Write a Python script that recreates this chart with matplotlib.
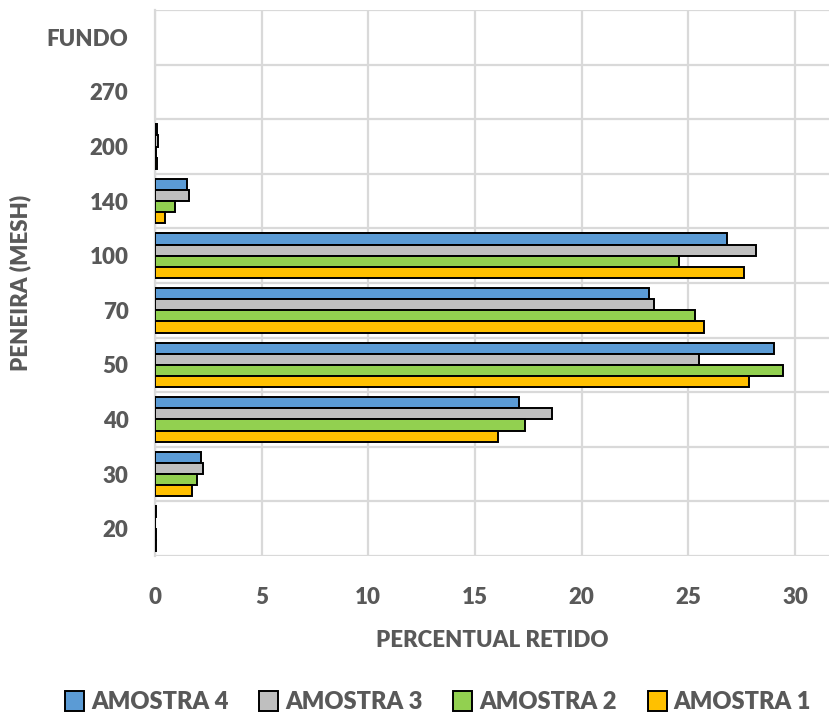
import matplotlib.pyplot as plt
import numpy as np

# Sieve openings (mesh) from bottom to top
peneiras = ['20', '30', '40', '50', '70', '100', '140', '200', '270', 'FUNDO']

# Percent retained on each sieve, per sample
amostra_4 = [0.03, 2.18, 17.05, 29.0, 23.15, 26.8, 1.48, 0.08, 0.0, 0.0]
amostra_3 = [0.02, 2.27, 18.6, 25.5, 23.4, 28.15, 1.6, 0.12, 0.0, 0.0]
amostra_2 = [0.05, 1.97, 17.35, 29.45, 25.3, 24.55, 0.94, 0.05, 0.0, 0.0]
amostra_1 = [0.04, 1.73, 16.1, 27.85, 25.75, 27.6, 0.45, 0.1, 0.0, 0.0]

series = [
    ('AMOSTRA 4', amostra_4, '#5B9BD5'),
    ('AMOSTRA 3', amostra_3, '#BFBFBF'),
    ('AMOSTRA 2', amostra_2, '#92D050'),
    ('AMOSTRA 1', amostra_1, '#FFC000'),
]

plt.rcParams['font.family'] = ['Lato', 'DejaVu Sans']
plt.rcParams['font.weight'] = 'heavy'
plt.rcParams['axes.labelweight'] = 'heavy'
txt = '#595959'
grid = '#D9D9D9'

fig = plt.figure(figsize=(8.3, 7.16), dpi=100)
ax = fig.add_axes([0.1867, 0.2235, 0.8123, 0.7625])

y = np.arange(len(peneiras))
h = 0.205
offsets = [1.5 * h, 0.5 * h, -0.5 * h, -1.5 * h]
for (name, vals, col), off in zip(series, offsets):
    # no outline on empty sieves
    lw = [1.4 if v > 0 else 0 for v in vals]
    ax.barh(y + off, vals, height=h, color=col, edgecolor='black',
            linewidth=lw, label=name, zorder=3)

ax.set_xlim(0, 31.6)
ax.set_ylim(-0.5, len(peneiras) - 0.5)
ax.set_xticks([0, 5, 10, 15, 20, 25, 30])
ax.set_yticks(y)
ax.set_yticklabels(peneiras, fontweight='heavy')
ax.set_xticklabels([str(v) for v in [0, 5, 10, 15, 20, 25, 30]], fontweight='heavy')
ax.set_yticks(np.arange(-0.5, len(peneiras), 1), minor=True)

ax.grid(axis='x', which='major', color=grid, linewidth=1.6, zorder=0)
ax.grid(axis='y', which='minor', color=grid, linewidth=1.6, zorder=0)
ax.tick_params(axis='both', which='both', length=0, labelsize=16, labelcolor=txt)
ax.tick_params(axis='x', pad=22)
ax.tick_params(axis='y', pad=19)
for s in ['top', 'right', 'bottom']:
    ax.spines[s].set_visible(False)
ax.spines['left'].set_color(grid)
ax.spines['left'].set_linewidth(1.6)

ax.set_xlabel('PERCENTUAL RETIDO', fontsize=16, color=txt, labelpad=16,
              fontweight='heavy')
ax.set_ylabel('PENEIRA (MESH)', fontsize=16, color=txt, labelpad=11,
              fontweight='heavy')

leg = ax.legend(loc='center', bbox_to_anchor=(0.42, -0.268), ncol=4,
                frameon=False, handlelength=0.8, prop={'size': 17, 'weight': 'heavy'},
                handleheight=0.9, handletextpad=0.3, columnspacing=1.3)
for t in leg.get_texts():
    t.set_color(txt)
for p in leg.get_patches():
    p.set_linewidth(1.4)

fig.savefig('out.png', dpi=100)
